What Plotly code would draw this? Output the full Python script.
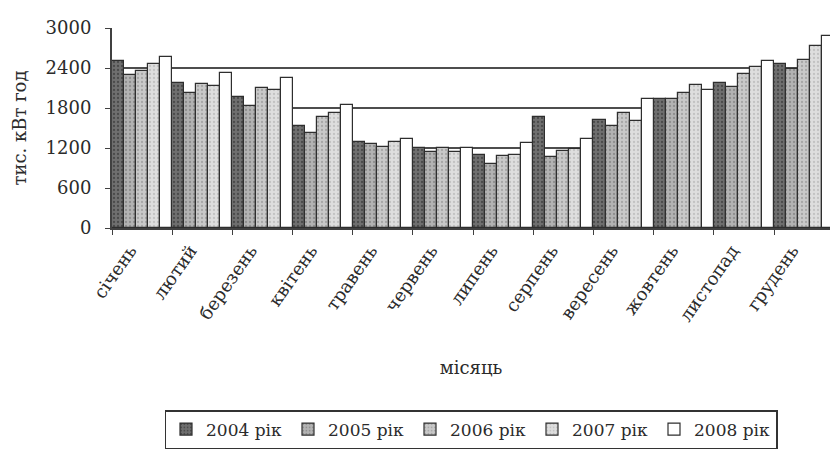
import plotly.graph_objects as go

# Monthly electricity consumption, thousand kWh, 2004-2008
months = ["січень", "лютий", "березень", "квітень", "травень", "червень",
          "липень", "серпень", "вересень", "жовтень", "листопад", "грудень"]

y2004 = [2510, 2180, 1970, 1530, 1295, 1195, 1095, 1660, 1625, 1930, 2180, 2460]
y2005 = [2300, 2020, 1830, 1420, 1260, 1140, 960, 1070, 1530, 1930, 2115, 2390]
y2006 = [2355, 2160, 2095, 1670, 1210, 1205, 1080, 1160, 1730, 2025, 2315, 2520]
y2007 = [2455, 2135, 2070, 1720, 1295, 1145, 1095, 1180, 1608, 2145, 2420, 2730]
y2008 = [2570, 2320, 2245, 1845, 1330, 1195, 1280, 1335, 1935, 2065, 2508, 2880]

series_names = ["2004 рік", "2005 рік", "2006 рік", "2007 рік", "2008 рік"]
series_values = [y2004, y2005, y2006, y2007, y2008]

y_ticks = [0, 600, 1200, 1800, 2400, 3000]
grid_levels = [600, 1200, 1800, 2400]

fills = ["#6f6f6f", "#b3b3b3", "#c9c9c9", "#dedede", "#ffffff"]
dots = ["#4a4a4a", "#8e8e8e", "#a6a6a6", "#c2c2c2", "#ffffff"]

FONT = "DejaVu Serif"
INK = "#2b2b2b"

fig = go.Figure()
for name, vals, fc, dc in zip(series_names, series_values, fills, dots):
    pattern = dict(shape="." if dc != "#ffffff" else "", fgcolor=dc,
                   bgcolor=fc, size=4, solidity=0.25, fillmode="replace")
    fig.add_trace(go.Bar(
        x=months, y=vals, name=name,
        marker=dict(color=fc, pattern=pattern,
                    line=dict(color="#2e2e2e", width=1.2)),
    ))

for lvl in grid_levels:
    fig.add_shape(type="line", xref="paper", x0=0, x1=1, yref="y", y0=lvl, y1=lvl,
                  line=dict(color="#4d4d4d", width=2), layer="below")

fig.update_layout(
    width=830, height=453,
    margin=dict(l=112, r=0, t=28, b=225),
    paper_bgcolor="white", plot_bgcolor="white",
    barmode="group", bargap=0, bargroupgap=0,
    font=dict(family=FONT, size=18, color=INK),
    showlegend=True,
    legend=dict(orientation="h", x=0.5, xanchor="center", y=-0.91, yanchor="top",
                bordercolor="#333333", borderwidth=1.5, bgcolor="white",
                font=dict(family=FONT, size=17, color=INK),
                itemwidth=30, entrywidth=77, entrywidthmode="pixels",
                traceorder="normal"),
)

fig.update_xaxes(
    type="category", categoryarray=months, range=[-0.5, 11.43],
    showline=True, linecolor="#404040", linewidth=2,
    ticks="outside", tickson="boundaries", ticklen=5, tickcolor="#404040",
    tickangle=-55, ticklabelstandoff=3, ticklabelshift=-12,
    tickfont=dict(family=FONT, size=18, color=INK),
    showgrid=False, zeroline=False, automargin=False,
    title=dict(text="місяць", font=dict(family=FONT, size=18, color=INK), standoff=37),
)

fig.update_yaxes(
    range=[0, 3000], tickmode="array", tickvals=y_ticks,
    showline=True, linecolor="#404040", linewidth=2,
    ticks="outside", ticklen=5, tickcolor="#404040", ticklabelstandoff=10,
    tickfont=dict(family=FONT, size=18, color=INK),
    showgrid=False, zeroline=False, automargin=False,
    title=dict(text="тис. кВт год", font=dict(family=FONT, size=18, color=INK), standoff=14),
)

fig.write_html("out.html")
